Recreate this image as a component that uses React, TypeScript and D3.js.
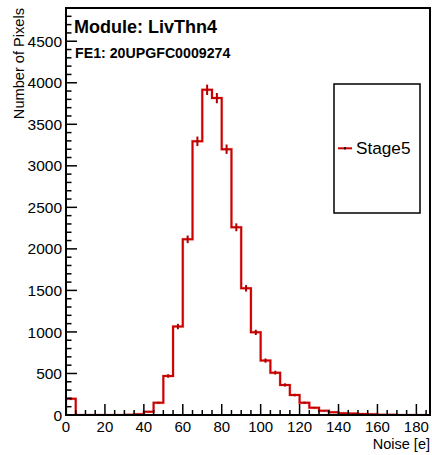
import React from "react";
import * as d3 from "d3";

// Histogram data (bin low edges, width 5)
const binLow: number[] = [0, 5, 10, 15, 20, 25, 30, 35, 40, 45, 50, 55, 60, 65, 70, 75, 80, 85, 90, 95, 100, 105, 110, 115, 120, 125, 130, 135, 140, 145, 150, 155, 160, 165, 170, 175, 180];
const counts: number[] = [195, 0, 0, 0, 0, 0, 4, 10, 40, 148, 470, 1065, 2115, 3295, 3915, 3815, 3200, 2260, 1525, 995, 655, 510, 362, 240, 148, 88, 52, 32, 22, 18, 12, 8, 4, 2, 0, 0, 0];
const binWidth = 5;
const xTicks: number[] = [0, 20, 40, 60, 80, 100, 120, 140, 160, 180];
const yTicks: number[] = [0, 500, 1000, 1500, 2000, 2500, 3000, 3500, 4000, 4500];
const titleText = "Module: LivThn4";
const subTitleText = "FE1: 20UPGFC0009274";
const legendLabel = "Stage5";
const xTitle = "Noise [e]";
const yTitle = "Number of Pixels";

const W = 432;
const H = 455;
const L = 66, R = 430, T = 8, B = 415;
const FONT = "'Liberation Sans', Arial, Helvetica, sans-serif";
const RED = "#cc0000";

export default function App() {
  const x = d3.scaleLinear().domain([0, 187]).range([L, R]);
  const y = d3.scaleLinear().domain([0, 4900]).range([B, T]);

  const pts: [number, number][] = [[0, 0]];
  binLow.forEach((b, i) => {
    pts.push([b, counts[i]]);
    pts.push([b + binWidth, counts[i]]);
  });
  const lastX = binLow[binLow.length - 1] + binWidth;
  pts.push([lastX, 0]);
  const line = d3
    .line<[number, number]>()
    .x((d) => x(Math.min(d[0], 187)))
    .y((d) => y(d[1]));
  const pathD = line(pts) || "";

  const xMinor = d3.range(0, 187.01, 5);
  const yMinor = d3.range(0, 4900, 100);

  return (
    <svg width={W} height={H} style={{ position: "absolute", left: 0, top: 0, background: "#fff" }} fontFamily={FONT}>
      <rect x={0} y={0} width={W} height={H} fill="#fff" />
      <defs>
        <clipPath id="plotclip">
          <rect x={L} y={T} width={R - L} height={B - T} />
        </clipPath>
      </defs>
      <g clipPath="url(#plotclip)">
        <path d={pathD} fill="none" stroke="#e8a0a0" strokeWidth={3} strokeLinejoin="miter" opacity={0.6} />
        <path d={pathD} fill="none" stroke={RED} strokeWidth={2} strokeLinejoin="miter" />
        {binLow.map((b, i) => {
          const v = counts[i];
          if (v <= 0) return null;
          const e = Math.sqrt(v);
          const cx = x(b + binWidth / 2);
          return (
            <g key={i}>
              <line x1={cx} x2={cx} y1={y(v - e)} y2={y(v + e)} stroke="#b00000" strokeWidth={2} />
            </g>
          );
        })}
      </g>
      {/* frame */}
      <rect x={L} y={T} width={R - L} height={B - T} fill="none" stroke="#000" strokeWidth={2} />
      {/* y ticks */}
      {yMinor.map((v) => {
        const major = v % 500 === 0;
        return (
          <line key={"ym" + v} x1={L} x2={L + (major ? 11 : 5.5)} y1={y(v)} y2={y(v)} stroke="#000" strokeWidth={1.5} />
        );
      })}
      {yTicks.map((v) => (
        <text key={"yl" + v} x={62} y={y(v)} dy="0.36em" textAnchor="end" fontSize={15.5} fill="#000">
          {v}
        </text>
      ))}
      {/* x ticks */}
      {xMinor.map((v) => {
        const major = v % 20 === 0;
        return (
          <line key={"xm" + v} x1={x(v)} x2={x(v)} y1={B} y2={B - (major ? 11 : 5)} stroke="#000" strokeWidth={1.5} />
        );
      })}
      {xTicks.map((v) => (
        <text key={"xl" + v} x={x(v)} y={432} textAnchor="middle" fontSize={15} fill="#000">
          {v}
        </text>
      ))}
      {/* axis titles */}
      <text x={R} y={448.5} textAnchor="end" fontSize={14.5} fill="#000">
        {xTitle}
      </text>
      <text transform={`translate(23.5, ${T}) rotate(-90)`} textAnchor="end" fontSize={14.6} fill="#000">
        {yTitle}
      </text>
      {/* titles */}
      <text x={74} y={33.3} fontSize={18} fontWeight="bold" fill="#000">
        {titleText}
      </text>
      <text x={75} y={57.5} fontSize={14.2} fontWeight="bold" fill="#000">
        {subTitleText}
      </text>
      {/* legend */}
      <rect x={334} y={84} width={86} height={129} fill="#fff" stroke="#000" strokeWidth={1.5} />
      <line x1={338} x2={352} y1={148.3} y2={148.3} stroke={RED} strokeWidth={2} />
      <line x1={345} x2={345} y1={147} y2={149.6} stroke="#000" strokeWidth={1.5} />
      <text x={356} y={148.3} dy="0.36em" fontSize={17.2} fill="#000">
        {legendLabel}
      </text>
    </svg>
  );
}
